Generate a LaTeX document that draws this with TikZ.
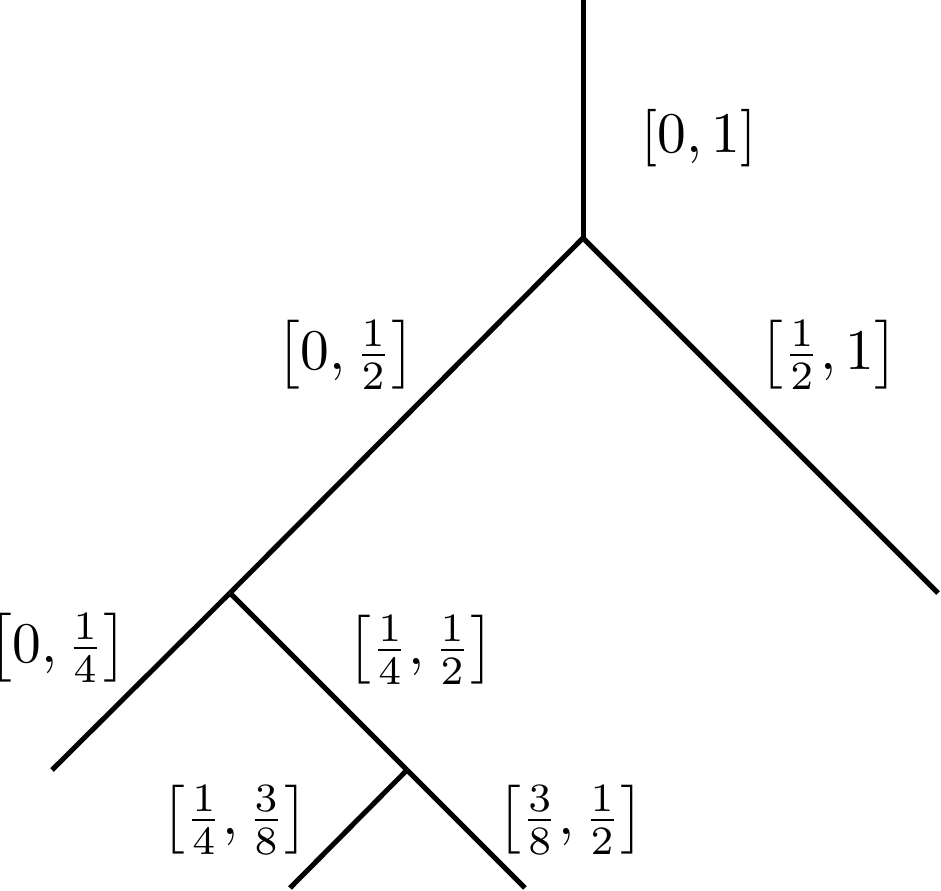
\documentclass[tikz,border=0pt]{standalone}
\begin{document}
\begin{tikzpicture}[x=0.174pt,y=-0.174pt,
  branch/.style={line width=0.87pt, line cap=butt, line join=miter},
  lbl/.style={inner sep=0pt, anchor=center}]
\useasboundingbox (0,0) rectangle (941,891);
\coordinate (top) at (583,0);
\coordinate (r) at (583,238);
\coordinate (rr) at (938,593);
\coordinate (a) at (230,593);
\coordinate (al) at (52,770);
\coordinate (b) at (407,770);
\coordinate (bl) at (290,888);
\coordinate (br) at (525,888);
\draw[branch] (top) -- (r);
\draw[branch] (r) -- (rr);
\draw[branch] (r) -- (a);
\draw[branch] (a) -- (al);
\draw[branch] (a) -- (b);
\draw[branch] (b) -- (bl);
\draw[branch] (b) -- (br);
\node[lbl] (l1) at (699,138) {$[0,1]$};
\node[lbl] (l2) at (346,355) {$\left[0,\frac{1}{2}\right]$};
\node[lbl] (l3) at (829,355) {$\left[\frac{1}{2},1\right]$};
\node[lbl] (l4) at (58,648) {$\left[0,\frac{1}{4}\right]$};
\node[lbl] (l5) at (421,650) {$\left[\frac{1}{4},\frac{1}{2}\right]$};
\node[lbl] (l6) at (235,820) {$\left[\frac{1}{4},\frac{3}{8}\right]$};
\node[lbl] (l7) at (571,820) {$\left[\frac{3}{8},\frac{1}{2}\right]$};
\end{tikzpicture}
\end{document}
